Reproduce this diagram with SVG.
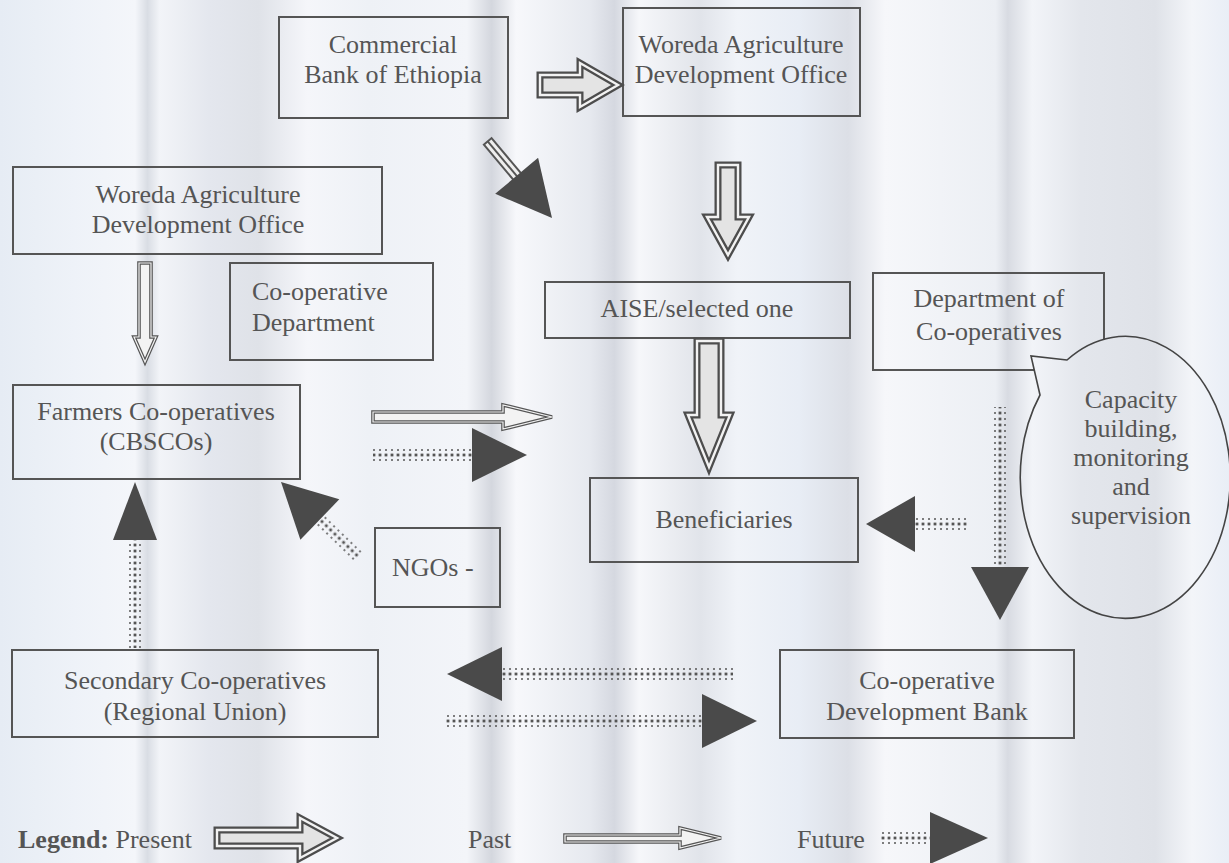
<svg xmlns="http://www.w3.org/2000/svg" width="1229" height="863" viewBox="0 0 1229 863">
  <defs>
    <linearGradient id="bg" gradientUnits="userSpaceOnUse" x1="0" y1="0" x2="1229" y2="0">
      <stop offset="0" stop-color="#e6ecf4"/>
      <stop offset="0.06" stop-color="#eef2f8"/>
      <stop offset="0.11" stop-color="#f4f6fa"/>
      <stop offset="0.12" stop-color="#d9dde4"/>
      <stop offset="0.13" stop-color="#f2f4f8"/>
      <stop offset="0.17" stop-color="#e4e7ee"/>
      <stop offset="0.21" stop-color="#dfe2e8"/>
      <stop offset="0.25" stop-color="#f5f6fa"/>
      <stop offset="0.30" stop-color="#eef1f6"/>
      <stop offset="0.38" stop-color="#f3f5f9"/>
      <stop offset="0.40" stop-color="#d4d7de"/>
      <stop offset="0.42" stop-color="#f7f8fb"/>
      <stop offset="0.48" stop-color="#e6e9ef"/>
      <stop offset="0.50" stop-color="#d5d8e0"/>
      <stop offset="0.52" stop-color="#f6f7fa"/>
      <stop offset="0.57" stop-color="#e1e4ea"/>
      <stop offset="0.60" stop-color="#f0f3f8"/>
      <stop offset="0.65" stop-color="#e8edf5"/>
      <stop offset="0.69" stop-color="#dcdfe6"/>
      <stop offset="0.72" stop-color="#f6f7fa"/>
      <stop offset="0.81" stop-color="#eceff4"/>
      <stop offset="0.82" stop-color="#d8dbe2"/>
      <stop offset="0.84" stop-color="#f2f4f8"/>
      <stop offset="0.88" stop-color="#e3e6ec"/>
      <stop offset="0.94" stop-color="#dfe2e8"/>
      <stop offset="0.97" stop-color="#f3f5f9"/>
      <stop offset="1" stop-color="#e9eef6"/>
    </linearGradient>
    <!-- dotted band used by the future-flow arrows (drawn pointing right, centred on y=0) -->
    <pattern id="dots" patternUnits="userSpaceOnUse" x="0" y="-7" width="6" height="14">
      <circle cx="3" cy="2" r="1" fill="#555"/>
      <rect x="1.6" y="5.6" width="2.8" height="2.8" fill="#555"/>
      <circle cx="3" cy="12" r="1" fill="#555"/>
    </pattern>
    <style>
      .box { fill: none; stroke: #555; stroke-width: 2; }
      .t { font-family: "Liberation Serif", "Times New Roman", serif; font-size: 26px; fill: #555; }
      .c { text-anchor: middle; }
      .p-out { fill: #e4e4e4; stroke: #4d4d4d; stroke-width: 7; stroke-linejoin: miter; }
      .p-in { fill: none; stroke: #f2f2f2; stroke-width: 2.4; stroke-linejoin: miter; }
      .q-out { fill: #f3f3f3; stroke: #555; stroke-width: 3.6; stroke-linejoin: miter; }
      .q-in { fill: none; stroke: #f3f3f3; stroke-width: 1.2; stroke-linejoin: miter; }
      .band { fill: url(#dots); }
      .head { fill: #4a4a4a; }
      .callout { fill: url(#bg); stroke: #444; stroke-width: 1.6; }
    </style>
  </defs>

  <rect width="1229" height="863" fill="url(#bg)"/>

  <!-- nodes -->
  <g id="commercial-bank">
    <rect class="box" x="279" y="17" width="229" height="101"/>
    <text class="t c" x="393" y="53">Commercial</text>
    <text class="t c" x="393" y="83">Bank of Ethiopia</text>
  </g>
  <g id="woreda-top">
    <rect class="box" x="623" y="8" width="237" height="108"/>
    <text class="t c" x="741" y="53">Woreda Agriculture</text>
    <text class="t c" x="741" y="83">Development Office</text>
  </g>
  <g id="woreda-left">
    <rect class="box" x="13" y="167" width="369" height="87"/>
    <text class="t c" x="198" y="203">Woreda Agriculture</text>
    <text class="t c" x="198" y="233">Development Office</text>
  </g>
  <g id="coop-department">
    <rect class="box" x="230" y="263" width="203" height="97"/>
    <text class="t" x="252" y="300">Co-operative</text>
    <text class="t" x="252" y="331">Department</text>
  </g>
  <g id="aise">
    <rect class="box" x="545" y="282" width="305" height="56"/>
    <text class="t c" x="697" y="317">AISE/selected one</text>
  </g>
  <g id="dept-cooperatives">
    <rect class="box" x="873" y="273" width="231" height="97"/>
    <text class="t c" x="989" y="307">Department of</text>
    <text class="t c" x="989" y="340">Co-operatives</text>
  </g>
  <g id="farmers-coops">
    <rect class="box" x="13" y="385" width="287" height="94"/>
    <text class="t c" x="156" y="420">Farmers Co-operatives</text>
    <text class="t c" x="156" y="450">(CBSCOs)</text>
  </g>
  <g id="beneficiaries">
    <rect class="box" x="590" y="478" width="268" height="84"/>
    <text class="t c" x="724" y="528">Beneficiaries</text>
  </g>
  <g id="ngos">
    <rect class="box" x="375" y="528" width="125" height="79"/>
    <text class="t" x="392" y="576">NGOs -</text>
  </g>
  <g id="secondary-coops">
    <rect class="box" x="12" y="650" width="366" height="87"/>
    <text class="t c" x="195" y="689">Secondary Co-operatives</text>
    <text class="t c" x="195" y="720">(Regional Union)</text>
  </g>
  <g id="coop-dev-bank">
    <rect class="box" x="780" y="650" width="294" height="88"/>
    <text class="t c" x="927" y="689">Co-operative</text>
    <text class="t c" x="927" y="720">Development Bank</text>
  </g>
  <!-- speech bubble sits over the corner of the department box -->
  <g id="capacity-callout">
    <path class="callout" d="M1067,360 L1031,356 L1040,395 A105,141 0 1,0 1067,360 Z"/>
    <text class="t c" x="1131" y="408">Capacity</text>
    <text class="t c" x="1131" y="437">building,</text>
    <text class="t c" x="1131" y="466">monitoring</text>
    <text class="t c" x="1131" y="495">and</text>
    <text class="t c" x="1131" y="524">supervision</text>
  </g>

  <!-- connectors -->
  <g id="connectors">
    <!-- present flows -->
    <g id="present-cbe-woreda">
      <path class="p-out" d="M540,75 H580 V63 L618,85 L580,107 V95 H540 Z"/>
      <path class="p-in" d="M540,75 H580 V63 L618,85 L580,107 V95 H540 Z"/>
    </g>
    <g id="present-woreda-aise">
      <path class="p-out" d="M718,165 V217 H707 L728,255 L749,217 H738 V165 Z"/>
      <path class="p-in" d="M718,165 V217 H707 L728,255 L749,217 H738 V165 Z"/>
    </g>
    <g id="present-aise-beneficiaries">
      <path class="p-out" d="M697,341 V415 H688 L709,467 L730,415 H721 V341 Z"/>
      <path class="p-in" d="M697,341 V415 H688 L709,467 L730,415 H721 V341 Z"/>
    </g>
    <g id="cbe-aise" transform="translate(552,218) rotate(50)">
      <rect x="-100" y="-5" width="48" height="10" fill="#eee" stroke="#555" stroke-width="2"/>
      <line x1="-100" y1="0" x2="-52" y2="0" stroke="#555" stroke-width="2"/>
      <path class="head" d="M-55,-28 L0,0 L-55,28 Z"/>
    </g>

    <!-- past flows -->
    <g id="past-woreda-farmers">
      <path class="q-out" d="M139,263 V337 H134 L145,362 L156,337 H151 V263 Z"/>
      <path class="q-in" d="M139,263 V337 H134 L145,362 L156,337 H151 V263 Z"/>
    </g>
    <g id="past-farmers-aise">
      <path class="q-out" d="M373,412 H503 V405 L552,417 L503,429 V422 H373 Z"/>
      <path class="q-in" d="M373,412 H503 V405 L552,417 L503,429 V422 H373 Z"/>
    </g>

    <!-- future flows (tip at the origin, pointing along +x) -->
    <g id="future-farmers-beneficiaries" transform="translate(527,455)">
      <rect class="band" x="-154" y="-7" width="99" height="14"/>
      <path class="head" d="M-55,-27 L0,0 L-55,27 Z"/>
    </g>
    <g id="future-dept-beneficiaries" transform="translate(866,524) rotate(180)">
      <rect class="band" x="-101" y="-7" width="52" height="14"/>
      <path class="head" d="M-49,-28 L0,0 L-49,28 Z"/>
    </g>
    <g id="future-dept-bank" transform="translate(1000,620) rotate(90)">
      <rect class="band" x="-213" y="-7" width="160" height="14"/>
      <path class="head" d="M-53,-29 L0,0 L-53,29 Z"/>
    </g>
    <g id="future-ngos-farmers" transform="translate(281,482) rotate(224)">
      <rect class="band" x="-108" y="-7" width="54" height="14"/>
      <path class="head" d="M-54,-28 L0,0 L-54,28 Z"/>
    </g>
    <g id="future-secondary-farmers" transform="translate(135,482) rotate(-90)">
      <rect class="band" x="-166" y="-7" width="108" height="14"/>
      <path class="head" d="M-58,-22 L0,0 L-58,22 Z"/>
    </g>
    <g id="future-bank-secondary" transform="translate(447,674) rotate(180)">
      <rect class="band" x="-286" y="-7" width="231" height="14"/>
      <path class="head" d="M-55,-27 L0,0 L-55,27 Z"/>
    </g>
    <g id="future-secondary-bank" transform="translate(757,721)">
      <rect class="band" x="-312" y="-7" width="257" height="14"/>
      <path class="head" d="M-55,-27 L0,0 L-55,27 Z"/>
    </g>
  </g>

  <!-- legend -->
  <g id="legend">
    <text class="t" x="18" y="848"><tspan font-weight="bold">Legend:</tspan> Present</text>
    <path class="p-out" d="M217,830 H300 V818 L337,838 L300,858 V846 H217 Z"/>
    <path class="p-in" d="M217,830 H300 V818 L337,838 L300,858 V846 H217 Z"/>
    <text class="t" x="468" y="848">Past</text>
    <path class="q-out" d="M565,835 H680 V828 L721,838 L680,848 V842 H565 Z"/>
    <path class="q-in" d="M565,835 H680 V828 L721,838 L680,848 V842 H565 Z"/>
    <text class="t" x="797" y="848">Future</text>
    <g transform="translate(988,838)">
      <rect class="band" x="-108" y="-7" width="50" height="14"/>
      <path class="head" d="M-58,-26 L0,0 L-58,26 Z"/>
    </g>
  </g>
</svg>
